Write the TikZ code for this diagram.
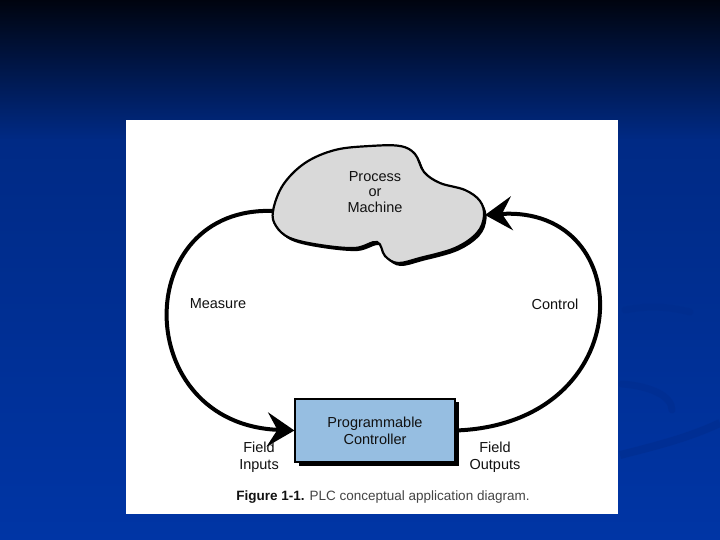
\documentclass[tikz,border=0pt]{standalone}
\usepackage{fontspec}
\setmainfont{Liberation Sans}
\usetikzlibrary{arrows.meta}
\definecolor{bgtop}{HTML}{00040F}
\definecolor{bgmid}{HTML}{002A85}
\definecolor{bgbot}{HTML}{0035A5}
\definecolor{swoosh}{HTML}{002C8C}
\definecolor{cloudgray}{HTML}{D9D9D9}
\definecolor{plcblue}{HTML}{96BEE1}
\definecolor{txt}{HTML}{111111}
\definecolor{captxt}{HTML}{444444}
\tikzset{
  lbl/.style={font=\fontsize{14.5}{16.5}\selectfont, text=txt, align=center, inner sep=0pt},
  loopline/.style={line width=4pt, -{Stealth[length=27pt,width=34pt,inset=10pt]}},
  plcbox/.style={draw=black, line width=1.2pt, fill=plcblue, minimum width=160pt, minimum height=63pt, inner sep=0pt, align=center, font=\fontsize{14.5}{17}\selectfont, text=txt}
}
\begin{document}
\begin{tikzpicture}[x=1pt,y=-1pt]
\useasboundingbox (0,0) rectangle (720,540);
% background
\shade[top color=bgtop, bottom color=bgmid] (0,0) rectangle (720,140);
\shade[top color=bgmid, bottom color=bgbot] (0,140) rectangle (720,540);
% faint swooshes
\draw[swoosh, line width=7pt, opacity=0.45, line cap=round] (625,310) .. controls (650,305) and (670,307) .. (690,312);
\draw[swoosh, line width=7pt, opacity=0.45, line cap=round] (622,384) .. controls (650,386) and (672,396) .. (672,410);
\draw[swoosh, line width=8pt, opacity=0.5] (620,455) .. controls (660,445) and (690,437) .. (720,423);
% white panel
\fill[white] (126,120) rectangle (618,514);
% cloud shadow
\fill[black, shift={(2.5,3)}] plot[smooth cycle, tension=0.6] coordinates {(273,211) (283,185) (305,163) (335,150) (370,146) (400,146) (415,154) (424,172) (440,183) (465,190) (480,201) (484,216) (477,233) (455,248) (420,258) (398,263) (385,256) (377,242) (355,248) (320,245) (290,238) (276,226)};
% cloud
\draw[fill=cloudgray, line width=2.2pt] plot[smooth cycle, tension=0.6] coordinates {(273,211) (283,185) (305,163) (335,150) (370,146) (400,146) (415,154) (424,172) (440,183) (465,190) (480,201) (484,216) (477,233) (455,248) (420,258) (398,263) (385,256) (377,242) (355,248) (320,245) (290,238) (276,226)};
\node[lbl, font=\fontsize{14.5}{15.5}\selectfont] (proc) at (375,192) {Process\\or\\Machine};
\coordinate (cl) at (274,211);
\coordinate (cr) at (485,215);
% PLC box with shadow
\fill[black] (299,402) rectangle (459,466);
\node[plcbox] (plc) at (375,430.5) {Programmable\\Controller};
% loops
\draw[loopline] (cl) .. controls (130,205) and (130,424) .. (plc.west);
\draw[loopline] (plc.east) .. controls (640,424) and (640,205) .. (cr);
% labels
\node[lbl] (meas) at (218,304) {Measure};
\node[lbl] (ctrl) at (555,304) {Control};
\node[lbl, font=\fontsize{14.5}{17}\selectfont] (fin) at (259,457) {Field\\Inputs};
\node[lbl, font=\fontsize{14.5}{17}\selectfont] (fout) at (495,457) {Field\\Outputs};
\node[inner sep=0pt, font=\fontsize{13.5}{16}\selectfont, text=captxt] (cap) at (383,497) {\textbf{\textcolor{txt}{Figure 1-1.}} PLC conceptual application diagram.};
\end{tikzpicture}
\end{document}
